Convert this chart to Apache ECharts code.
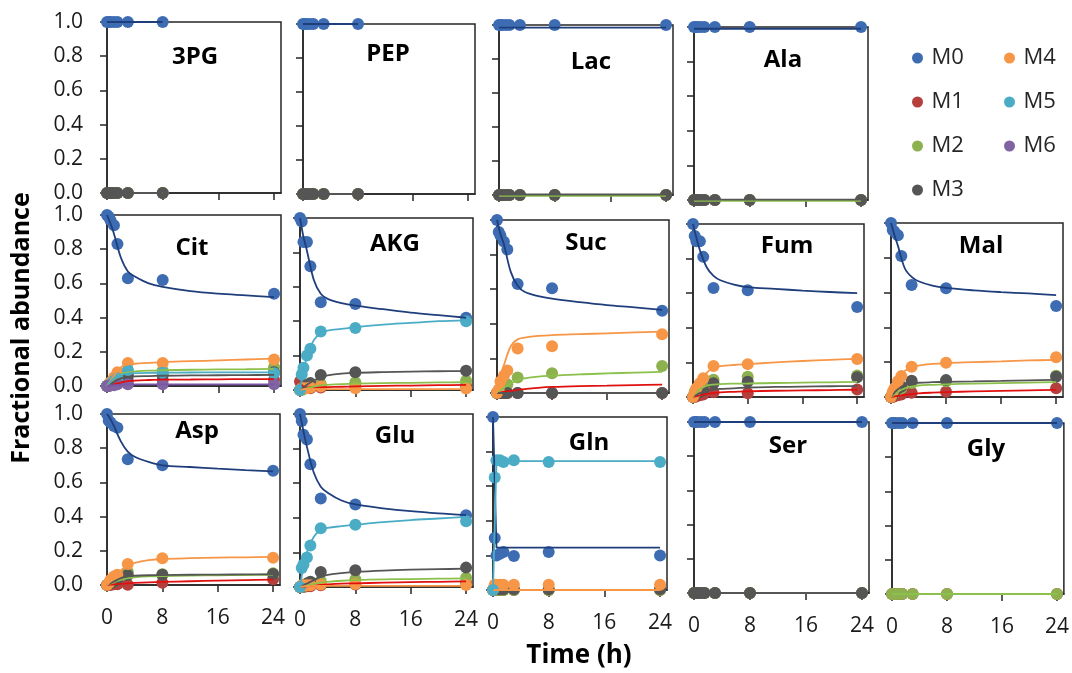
<!DOCTYPE html>
<html>
<head>
<meta charset="utf-8">
<title>Fractional abundance</title>
<script src="https://cdn.jsdelivr.net/npm/echarts@6/dist/echarts.min.js"></script>
<style>
  html, body { margin: 0; padding: 0; background: #fff; }
  #chart { width: 1072px; height: 673px; }
</style>
</head>
<body>
<div id="chart"></div>
<script>
const times = [0, 0.25, 0.5, 1, 1.5, 3, 8, 24];
const fitTimes = [0, 0.5, 1, 2, 3, 4, 6, 8, 12, 16, 20, 24];
const isotopologues = ['M0', 'M1', 'M2', 'M3', 'M4', 'M5', 'M6'];
const metabolites = ['3PG', 'PEP', 'Lac', 'Ala', 'Cit', 'AKG', 'Suc', 'Fum', 'Mal', 'Asp', 'Glu', 'Gln', 'Ser', 'Gly'];
const xTicks = [0, 8, 16, 24];
const yTicks = [0, 0.2, 0.4, 0.6, 0.8, 1.0];

// one row per isotopologue (M0, M1, ...), points at `times`
const pts3PG = [
  [1, 1, 1, 1, 1, 1, 1, null],
  [0, 0, 0, 0, 0, 0, 0, null],
  [0, 0, 0, 0, 0, 0, 0, null],
  [0, 0, 0, 0, 0, 0, 0, null]
];
const fit3PG = [
  [1, 1, 1, 1, 1, 1, 1, 1, null, null, null, null],
  [0, 0, 0, 0, 0, 0, 0, 0, null, null, null, null],
  [0, 0, 0, 0, 0, 0, 0, 0, null, null, null, null],
  [0, 0, 0, 0, 0, 0, 0, 0, null, null, null, null]
];
const ptsPEP = [
  [1, 1, 1, 1, 1, 1, 1, null],
  [0, 0, 0, 0, 0, 0, 0, null],
  [0, 0, 0, 0, 0, 0, 0, null],
  [0, 0, 0, 0, 0, 0, 0, null]
];
const fitPEP = [
  [1, 1, 1, 1, 1, 1, 1, 1, null, null, null, null],
  [0, 0, 0, 0, 0, 0, 0, 0, null, null, null, null],
  [0, 0, 0, 0, 0, 0, 0, 0, null, null, null, null],
  [0, 0, 0, 0, 0, 0, 0, 0, null, null, null, null]
];
const ptsLac = [
  [1, 1, 1, 1, 1, 1, 1, 1],
  [0, 0, 0, 0, 0, 0, 0, 0],
  [0, 0, 0, 0, 0, 0, 0, 0],
  [0, 0, 0, 0, 0, 0, 0, 0]
];
const fitLac = [
  [0.985, 0.985, 0.985, 0.985, 0.985, 0.985, 0.985, 0.985, 0.985, 0.985, 0.985, 0.985],
  [0, 0, 0, 0, 0, 0, 0, 0, 0, 0, 0, 0],
  [-0.005, -0.005, -0.005, -0.005, -0.005, -0.005, -0.005, -0.005, -0.005, -0.005, -0.005, -0.005],
  [0.003, 0.003, 0.003, 0.003, 0.003, 0.003, 0.003, 0.003, 0.003, 0.003, 0.003, 0.003]
];
const ptsAla = [
  [1, 1, 1, 1, 1, 1, 1, 1],
  [0, 0, 0, 0, 0, 0, 0, 0],
  [0, 0, 0, 0, 0, 0, 0, 0],
  [0, 0, 0, 0, 0, 0, 0, 0]
];
const fitAla = [
  [0.99, 0.99, 0.99, 0.99, 0.99, 0.99, 0.99, 0.99, 0.99, 0.99, 0.99, 0.99],
  [0, 0, 0, 0, 0, 0, 0, 0, 0, 0, 0, 0],
  [-0.005, -0.005, -0.005, -0.005, -0.005, -0.005, -0.005, -0.005, -0.005, -0.005, -0.005, -0.005],
  [0.002, 0.002, 0.002, 0.002, 0.002, 0.002, 0.002, 0.002, 0.002, 0.002, 0.002, 0.002]
];
const ptsCit = [
  [1.0, 0.99, 0.97, 0.94, 0.83, 0.63, 0.62, 0.54],
  [0, 0, 0.005, 0.01, 0.02, 0.03, 0.035, 0.035],
  [0, 0.01, 0.02, 0.04, 0.05, 0.08, 0.09, 0.11],
  [0, 0.005, 0.01, 0.03, 0.04, 0.06, 0.065, 0.08],
  [0, 0.01, 0.02, 0.05, 0.08, 0.135, 0.135, 0.155],
  [0, 0.005, 0.01, 0.03, 0.045, 0.094, 0.078, 0.074],
  [0, 0, 0.005, 0.005, 0.01, 0.01, 0.01, 0.01]
];
const fitCit = [
  [1.0, 0.95, 0.89, 0.75, 0.67, 0.64, 0.60, 0.58, 0.555, 0.54, 0.53, 0.52],
  [0, 0.005, 0.01, 0.02, 0.028, 0.032, 0.035, 0.037, 0.038, 0.039, 0.04, 0.04],
  [0, 0.02, 0.04, 0.07, 0.08, 0.085, 0.09, 0.092, 0.095, 0.097, 0.098, 0.1],
  [0, 0.01, 0.025, 0.045, 0.052, 0.056, 0.058, 0.06, 0.062, 0.063, 0.064, 0.065],
  [0, 0.03, 0.06, 0.11, 0.125, 0.13, 0.135, 0.14, 0.145, 0.15, 0.155, 0.16],
  [0, 0.025, 0.045, 0.065, 0.072, 0.075, 0.077, 0.078, 0.079, 0.08, 0.08, 0.08],
  [0, 0.003, 0.005, 0.008, 0.009, 0.01, 0.01, 0.01, 0.01, 0.01, 0.01, 0.01]
];
const ptsAKG = [
  [1.0, 0.98, 0.86, 0.86, 0.72, 0.51, 0.50, 0.42],
  [0.05, 0.03, 0.02, 0.015, 0.01, 0.015, 0.02, 0.025],
  [0, 0, 0.01, 0.015, 0.02, 0.035, 0.045, 0.054],
  [0, 0.01, 0.02, 0.03, 0.04, 0.087, 0.103, 0.112],
  [0, 0.01, 0.01, 0.01, 0.015, 0.02, 0.01, 0.008],
  [0, 0.09, 0.13, 0.2, 0.24, 0.34, 0.36, 0.40]
];
const fitAKG = [
  [1.0, 0.89, 0.81, 0.64, 0.56, 0.53, 0.505, 0.49, 0.47, 0.45, 0.435, 0.42],
  [0.04, 0.02, 0.015, 0.015, 0.016, 0.017, 0.019, 0.021, 0.024, 0.026, 0.028, 0.03],
  [0, 0.005, 0.01, 0.02, 0.027, 0.03, 0.034, 0.037, 0.04, 0.042, 0.044, 0.045],
  [0, 0.015, 0.03, 0.055, 0.075, 0.085, 0.095, 0.1, 0.104, 0.107, 0.109, 0.11],
  [0, 0.005, 0.005, 0.005, 0.005, 0.005, 0.005, 0.005, 0.005, 0.005, 0.005, 0.005],
  [0, 0.11, 0.19, 0.29, 0.33, 0.345, 0.355, 0.365, 0.38, 0.39, 0.4, 0.405]
];
const ptsSuc = [
  [1.0, 0.93, 0.91, 0.875, 0.83, 0.63, 0.605, 0.475],
  [0, 0, 0, 0, 0, 0, 0, 0],
  [0, 0.005, 0.01, 0.03, 0.05, 0.09, 0.114, 0.156],
  [0, 0, 0, 0, 0, 0, 0, 0],
  [0, 0.02, 0.066, 0.10, 0.13, 0.257, 0.27, 0.34]
];
const fitSuc = [
  [1.0, 0.92, 0.86, 0.70, 0.62, 0.585, 0.56, 0.545, 0.525, 0.508, 0.495, 0.48],
  [0, 0.003, 0.006, 0.012, 0.018, 0.022, 0.03, 0.035, 0.04, 0.043, 0.046, 0.048],
  [0, 0.015, 0.03, 0.055, 0.075, 0.085, 0.095, 0.1, 0.108, 0.113, 0.118, 0.122],
  [0, 0, 0, 0, 0, 0, 0, 0, 0, 0, 0, 0],
  [0, 0.09, 0.16, 0.27, 0.31, 0.32, 0.33, 0.335, 0.34, 0.345, 0.35, 0.355]
];
const ptsFum = [
  [1.0, 0.93, 0.90, 0.90, 0.81, 0.63, 0.617, 0.52],
  [0, 0, 0.005, 0.01, 0.015, 0.027, 0.021, 0.044],
  [0, 0.03, 0.04, 0.05, 0.06, 0.1, 0.117, 0.125],
  [0, 0.01, 0.02, 0.03, 0.04, 0.08, 0.088, 0.114],
  [0, 0.02, 0.05, 0.08, 0.108, 0.179, 0.19, 0.22]
];
const fitFum = [
  [1.0, 0.92, 0.85, 0.75, 0.70, 0.675, 0.65, 0.635, 0.625, 0.615, 0.607, 0.60],
  [0, 0.005, 0.01, 0.018, 0.023, 0.027, 0.03, 0.033, 0.036, 0.038, 0.04, 0.042],
  [0, 0.025, 0.045, 0.065, 0.072, 0.075, 0.077, 0.078, 0.081, 0.083, 0.085, 0.087],
  [0, 0.012, 0.022, 0.035, 0.043, 0.047, 0.05, 0.055, 0.058, 0.06, 0.062, 0.063],
  [0, 0.05, 0.09, 0.14, 0.17, 0.178, 0.185, 0.19, 0.2, 0.208, 0.215, 0.22]
];
const ptsMal = [
  [1.0, 0.96, 0.95, 0.93, 0.81, 0.644, 0.625, 0.523],
  [0, 0, 0.005, 0.01, 0.015, 0.025, 0.03, 0.05],
  [0, 0.01, 0.02, 0.04, 0.05, 0.08, 0.09, 0.122],
  [0, 0.01, 0.03, 0.05, 0.06, 0.094, 0.097, 0.117],
  [0, 0.03, 0.05, 0.09, 0.12, 0.174, 0.197, 0.228]
];
const fitMal = [
  [1.0, 0.93, 0.87, 0.74, 0.69, 0.665, 0.64, 0.627, 0.613, 0.603, 0.595, 0.586],
  [0, 0.003, 0.006, 0.012, 0.017, 0.021, 0.025, 0.028, 0.032, 0.035, 0.038, 0.041],
  [0, 0.015, 0.03, 0.05, 0.06, 0.066, 0.07, 0.073, 0.077, 0.08, 0.083, 0.086],
  [0, 0.025, 0.045, 0.07, 0.078, 0.082, 0.085, 0.087, 0.09, 0.093, 0.096, 0.098],
  [0, 0.06, 0.1, 0.15, 0.17, 0.18, 0.19, 0.195, 0.2, 0.205, 0.21, 0.213]
];
const ptsAsp = [
  [1.0, 0.96, 0.95, 0.93, 0.92, 0.735, 0.70, 0.668],
  [0, 0, 0, 0.005, 0.005, 0.002, 0.013, 0.033],
  [0, 0.005, 0.01, 0.02, 0.03, 0.078, 0.063, 0.068],
  [0, 0.005, 0.01, 0.02, 0.03, 0.058, 0.06, 0.065],
  [0, 0.01, 0.03, 0.05, 0.06, 0.123, 0.156, 0.16]
];
const fitAsp = [
  [1.0, 0.97, 0.93, 0.84, 0.78, 0.75, 0.72, 0.70, 0.69, 0.68, 0.672, 0.665],
  [0, 0.002, 0.004, 0.007, 0.01, 0.012, 0.015, 0.018, 0.022, 0.026, 0.029, 0.031],
  [0, 0.008, 0.016, 0.03, 0.04, 0.045, 0.05, 0.052, 0.055, 0.057, 0.058, 0.06],
  [0, 0.01, 0.02, 0.04, 0.05, 0.054, 0.057, 0.058, 0.06, 0.061, 0.062, 0.063],
  [0, 0.02, 0.04, 0.085, 0.115, 0.13, 0.145, 0.152, 0.157, 0.16, 0.162, 0.164]
];
const ptsGlu = [
  [1.0, 0.96, 0.88, 0.853, 0.71, 0.512, 0.477, 0.415],
  [0, 0, 0, 0.005, 0.005, 0.01, 0.015, 0.025],
  [0, 0, 0.005, 0.01, 0.015, 0.035, 0.045, 0.054],
  [0, 0.005, 0.01, 0.02, 0.03, 0.087, 0.097, 0.112],
  [0, 0.01, 0.01, 0.01, 0.01, 0.015, 0.018, 0.012],
  [0, 0.11, 0.13, 0.17, 0.24, 0.34, 0.36, 0.38]
];
const fitGlu = [
  [1.0, 0.90, 0.81, 0.66, 0.58, 0.545, 0.5, 0.477, 0.455, 0.438, 0.425, 0.415],
  [0, 0.002, 0.004, 0.008, 0.012, 0.015, 0.019, 0.021, 0.025, 0.028, 0.03, 0.032],
  [0, 0.005, 0.01, 0.018, 0.025, 0.03, 0.036, 0.04, 0.044, 0.046, 0.048, 0.05],
  [0, 0.01, 0.02, 0.04, 0.058, 0.07, 0.08, 0.087, 0.095, 0.1, 0.103, 0.106],
  [0, 0.004, 0.005, 0.006, 0.006, 0.006, 0.006, 0.006, 0.006, 0.006, 0.006, 0.006],
  [0, 0.12, 0.2, 0.29, 0.33, 0.342, 0.352, 0.36, 0.375, 0.387, 0.396, 0.405]
];
const ptsGln = [
  [1.0, 0.30, 0.20, 0.21, 0.22, 0.196, 0.22, 0.20],
  [0, 0, 0, 0, 0, 0, 0, 0],
  [0, 0, 0, 0, 0, 0, 0, 0],
  [0, 0.005, 0.005, 0.005, 0.005, 0.005, 0.005, 0.005],
  [0, 0.03, 0.03, 0.03, 0.03, 0.03, 0.03, 0.03],
  [0, 0.65, 0.75, 0.75, 0.74, 0.75, 0.74, 0.74]
];
const fitGln = [
  [1.0, 0.245, 0.245, 0.245, 0.245, 0.245, 0.245, 0.245, 0.245, 0.245, 0.245, 0.245],
  [0, 0, 0, 0, 0, 0, 0, 0, 0, 0, 0, 0],
  [0, 0, 0, 0, 0, 0, 0, 0, 0, 0, 0, 0],
  [0, 0, 0, 0, 0, 0, 0, 0, 0, 0, 0, 0],
  [0, 0, 0, 0, 0, 0, 0, 0, 0, 0, 0, 0],
  [0, 0.745, 0.745, 0.745, 0.745, 0.745, 0.745, 0.745, 0.745, 0.745, 0.745, 0.745]
];
const ptsSer = [
  [1, 1, 1, 1, 1, 1, 1, 1],
  [0, 0, 0, 0, 0, 0, 0, 0],
  [0, 0, 0, 0, 0, 0, 0, 0],
  [0, 0, 0, 0, 0, 0, 0, 0]
];
const fitSer = [
  [1, 1, 1, 1, 1, 1, 1, 1, 1, 1, 1, 1],
  [0, 0, 0, 0, 0, 0, 0, 0, 0, 0, 0, 0],
  [0, 0, 0, 0, 0, 0, 0, 0, 0, 0, 0, 0],
  [0, 0, 0, 0, 0, 0, 0, 0, 0, 0, 0, 0]
];
const ptsGly = [
  [1, 1, 1, 1, 1, 1, 1, 1],
  [0, 0, 0, 0, 0, 0, 0, 0],
  [0, 0, 0, 0, 0, 0, 0, 0]
];
const fitGly = [
  [1, 1, 1, 1, 1, 1, 1, 1, 1, 1, 1, 1],
  [0, 0, 0, 0, 0, 0, 0, 0, 0, 0, 0, 0],
  [0, 0, 0, 0, 0, 0, 0, 0, 0, 0, 0, 0]
];

const allPts = [pts3PG, ptsPEP, ptsLac, ptsAla, ptsCit, ptsAKG, ptsSuc, ptsFum, ptsMal, ptsAsp, ptsGlu, ptsGln, ptsSer, ptsGly];
const allFits = [fit3PG, fitPEP, fitLac, fitAla, fitCit, fitAKG, fitSuc, fitFum, fitMal, fitAsp, fitGlu, fitGln, fitSer, fitGly];

// layout: plot boxes [left, top, width, height] and title centres
const boxes = [
  [107, 22, 174, 171], [303, 24, 172, 170], [499, 25, 174, 170], [694, 27, 174, 173],
  [107, 215, 174, 171], [300, 218, 173, 172], [497, 220, 172, 173], [693, 224, 171, 173], [891, 223, 172, 174],
  [107, 414, 173, 171], [300, 414, 173, 173], [493, 417, 174, 173], [694, 422, 175, 171], [892, 423, 174, 171]
];
const titlePos = [
  [195, 57], [388, 54], [591, 62], [783, 60],
  [192, 248], [395, 244], [586, 243], [787, 246], [981, 246],
  [197, 431], [395, 436], [589, 443], [788, 446], [986, 449]
];
const yLabelPanels = [0, 4, 9];
const xLabelPanels = [9, 10, 11, 12, 13];
const straightPanels = [11];

const ptColors = ['#3D6CB3', '#B43F3C', '#8DB14E', '#555555', '#F79646', '#4BACC6', '#8064A2'];
const lineColors = ['#1F3E7C', '#E01010', '#8CC04C', '#555555', '#F79646', '#4BACC6', '#7A55A8'];
const FONT = '"Open Sans", "DejaVu Sans", sans-serif';
const AXIS = '#262626';

const grid = [], xAxis = [], yAxis = [], series = [], graphic = [];

metabolites.forEach((name, k) => {
  const [l, t, w, h] = boxes[k];
  grid.push({ left: l, top: t, width: w, height: h, show: true, borderColor: AXIS, borderWidth: 1.5 });
  xAxis.push({
    gridIndex: k, type: 'value', min: 0, max: 25,
    axisLine: { lineStyle: { color: AXIS, width: 1.5 } },
    axisTick: { customValues: xTicks, length: 7, lineStyle: { color: AXIS, width: 1.5 } },
    axisLabel: { show: xLabelPanels.includes(k), customValues: xTicks, margin: 23, fontSize: 21, color: '#1a1a1a', fontFamily: FONT },
    splitLine: { show: false }
  });
  yAxis.push({
    gridIndex: k, type: 'value', min: 0, max: 1, interval: 0.2,
    axisLine: { show: true, lineStyle: { color: AXIS, width: 1.5 } },
    axisTick: { show: true, customValues: yTicks, length: 7, lineStyle: { color: AXIS, width: 1.5 } },
    axisLabel: {
      show: yLabelPanels.includes(k), customValues: yTicks, margin: 24, fontSize: 21, color: '#1a1a1a', fontFamily: FONT,
      formatter: v => v.toFixed(1)
    },
    splitLine: { show: false }
  });

  const pts = allPts[k], fit = allFits[k];
  pts.forEach((row, i) => {
    series.push({
      name: isotopologues[i] + ' fit', type: 'line', xAxisIndex: k, yAxisIndex: k,
      data: fitTimes.map((x, j) => [x, fit[i][j]]).filter(d => d[1] !== null),
      smooth: straightPanels.includes(k) ? false : 0.35,
      showSymbol: false, symbol: 'none', clip: false, silent: true,
      lineStyle: { color: lineColors[i], width: 1.8 }
    });
    series.push({
      name: isotopologues[i], type: 'scatter', xAxisIndex: k, yAxisIndex: k,
      data: times.map((x, j) => [x, row[j]]).filter(d => d[1] !== null),
      symbol: 'circle', symbolSize: 12, clip: false, silent: true,
      itemStyle: { color: ptColors[i], opacity: 1 }
    });
  });

  graphic.push({
    type: 'text', x: titlePos[k][0], y: titlePos[k][1], silent: true,
    style: { text: name, font: 'bold 24px ' + FONT, fill: '#000',
      align: 'center', verticalAlign: 'middle', textAlign: 'center', textVerticalAlign: 'middle' }
  });
});

graphic.push({
  type: 'text', x: 22, y: 328, rotation: Math.PI / 2, silent: true,
  style: { text: 'Fractional abundance', font: 'bold 25px ' + FONT, fill: '#000',
    align: 'center', verticalAlign: 'middle', textAlign: 'center', textVerticalAlign: 'middle' }
});
graphic.push({
  type: 'text', x: 579, y: 656, silent: true,
  style: { text: 'Time (h)', font: 'bold 26px ' + FONT, fill: '#000',
    align: 'center', verticalAlign: 'middle', textAlign: 'center', textVerticalAlign: 'middle' }
});

const legendBase = {
  orient: 'vertical', top: 42, icon: 'circle', itemWidth: 18, itemHeight: 11, itemGap: 22,
  selectedMode: false,
  textStyle: { fontSize: 22, lineHeight: 22, color: '#262626', fontFamily: FONT }
};

const chart = echarts.init(document.getElementById('chart'), null, { renderer: 'canvas' });
chart.setOption({
  animation: false,
  backgroundColor: '#fff',
  textStyle: { fontFamily: FONT },
  legend: [
    Object.assign({}, legendBase, { left: 907, data: isotopologues.slice(0, 4).map((n, i) => ({ name: n, itemStyle: { color: ptColors[i] } })) }),
    Object.assign({}, legendBase, { left: 999, data: isotopologues.slice(4).map((n, i) => ({ name: n, itemStyle: { color: ptColors[i + 4] } })) })
  ],
  grid: grid,
  xAxis: xAxis,
  yAxis: yAxis,
  series: series,
  graphic: graphic
});
</script>
</body>
</html>
